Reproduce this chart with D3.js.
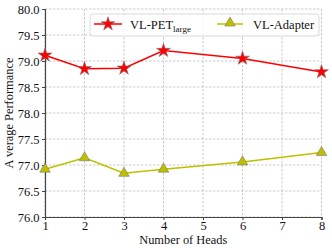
<!DOCTYPE html>
<html>
<head>
  <meta charset="utf-8">
  <script src="https://d3js.org/d3.v7.min.js"></script>
  <style>
    body { margin: 0; background: #fff; }
    text { font-family: "Liberation Serif", "DejaVu Serif", serif; fill: #111; }
  </style>
</head>
<body>
<script>
  // chart values
  var heads = [1, 2, 3, 4, 6, 8];
  var vlpet = [79.11, 78.85, 78.86, 79.20, 79.05, 78.79];
  var adapter = [76.92, 77.14, 76.84, 76.92, 77.06, 77.24];
  var xTicks = [1, 2, 3, 4, 5, 6, 7, 8];
  var yTicks = [76.0, 76.5, 77.0, 77.5, 78.0, 78.5, 79.0, 79.5, 80.0];

  var W = 332, H = 248;
  var pLeft = 45, pRight = 321.5, pTop = 9, pBottom = 217;

  var svg = d3.select("body").append("svg")
    .attr("width", W).attr("height", H);

  var x = d3.scaleLinear().domain([1, 8]).range([pLeft, pRight]);
  var y = d3.scaleLinear().domain([76, 80]).range([pBottom, pTop]);

  // grid
  var grid = svg.append("g");
  grid.selectAll("line.gx").data(xTicks).enter().append("line")
    .attr("x1", d => x(d)).attr("x2", d => x(d))
    .attr("y1", pTop).attr("y2", pBottom)
    .attr("stroke", "#bdbdbd").attr("stroke-width", 0.8)
    .attr("stroke-dasharray", "2.5,1.5");
  grid.selectAll("line.gy").data(yTicks).enter().append("line")
    .attr("x1", pLeft).attr("x2", pRight)
    .attr("y1", d => y(d)).attr("y2", d => y(d))
    .attr("stroke", "#bdbdbd").attr("stroke-width", 0.8)
    .attr("stroke-dasharray", "2.5,1.5");

  // axes
  var xAxis = svg.append("g").attr("transform", "translate(0," + pBottom + ")")
    .call(d3.axisBottom(x).tickValues(xTicks).tickSize(3).tickPadding(1).tickFormat(d3.format("d")));
  var yAxis = svg.append("g").attr("transform", "translate(" + pLeft + ",0)")
    .call(d3.axisLeft(y).tickValues(yTicks).tickSize(3).tickPadding(2.5).tickFormat(d3.format(".1f")));
  [xAxis, yAxis].forEach(function (a) {
    a.select(".domain").attr("stroke", "#444").attr("stroke-width", 1.2);
    a.selectAll(".tick line").attr("stroke", "#444");
    a.selectAll(".tick text").style("font-family", "Liberation Serif, serif")
      .style("font-size", "12.5px").attr("fill", "#111");
  });

  svg.append("text").attr("x", (pLeft + pRight) / 2).attr("y", 244)
    .attr("text-anchor", "middle").style("font-size", "12.4px").text("Number of Heads");
  svg.append("text").attr("transform", "translate(12.5," + ((pTop + pBottom) / 2) + ") rotate(-90)")
    .attr("text-anchor", "middle").style("font-size", "12.4px").text("A verage Performance");

  var line = d3.line().x(d => x(d[0])).y(d => y(d[1]));
  var star = d3.symbol().type(d3.symbolStar).size(60);
  var tri = d3.symbol().type(d3.symbolTriangle).size(48);

  function series(vals, color, sym) {
    var pts = heads.map((h, i) => [h, vals[i]]);
    svg.append("path").datum(pts).attr("d", line)
      .attr("fill", "none").attr("stroke", color).attr("stroke-width", 1.5);
    svg.selectAll(null).data(pts).enter().append("path")
      .attr("d", sym)
      .attr("transform", d => "translate(" + x(d[0]) + "," + y(d[1]) + ")")
      .attr("fill", color).attr("stroke", "#777").attr("stroke-width", 0.6);
  }
  series(vlpet, "#ff0000", star);
  series(adapter, "#bfbf00", tri);

  // legend
  var lg = svg.append("g");
  lg.append("rect").attr("x", 90).attr("y", 14).attr("width", 229).attr("height", 22)
    .attr("rx", 3).attr("fill", "#fff").attr("fill-opacity", 0.85)
    .attr("stroke", "#d0d0d0").attr("stroke-width", 0.8);
  lg.append("line").attr("x1", 94).attr("x2", 122).attr("y1", 24).attr("y2", 24)
    .attr("stroke", "#ff0000").attr("stroke-width", 1.5);
  lg.append("path").attr("d", star).attr("transform", "translate(108,24)")
    .attr("fill", "#ff0000").attr("stroke", "#777").attr("stroke-width", 0.6);
  var t1 = lg.append("text").attr("x", 130).attr("y", 28.5).style("font-size", "12.5px");
  t1.append("tspan").text("VL-PET");
  t1.append("tspan").attr("dy", 3).style("font-size", "9px").text("large");
  lg.append("line").attr("x1", 217).attr("x2", 243).attr("y1", 24).attr("y2", 24)
    .attr("stroke", "#bfbf00").attr("stroke-width", 1.5);
  lg.append("path").attr("d", tri).attr("transform", "translate(230,23)")
    .attr("fill", "#bfbf00").attr("stroke", "#777").attr("stroke-width", 0.6);
  lg.append("text").attr("x", 253).attr("y", 28.5).style("font-size", "12.5px").text("VL-Adapter");
</script>
</body>
</html>
